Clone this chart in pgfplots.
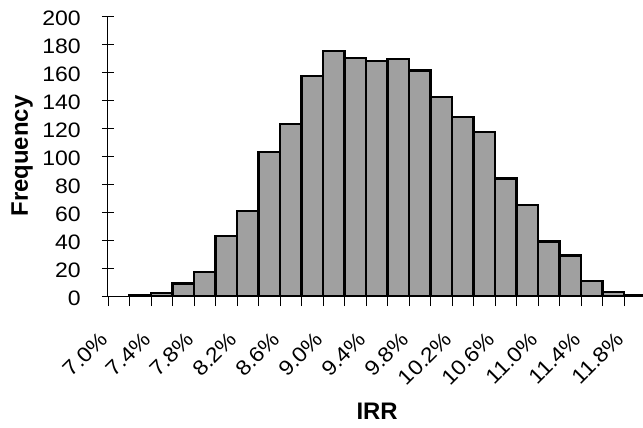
\documentclass[border=0pt]{standalone}
\usepackage{pgfplots}
\pgfplotsset{compat=1.18}
\usepackage{fontspec}
\setmainfont{Liberation Sans}
\newfontfamily\tickfam{Liberation Sans}[FakeStretch=1.1]
\definecolor{barfill}{RGB}{160,160,160}
\newcommand{\tickfont}{\tickfam\fontsize{21}{25}\selectfont}
\newcommand{\labfont}{\fontsize{24}{28}\selectfont\bfseries}
\newcommand{\xl}[1]{{\tickfont #1\%}}
\begin{document}
\begin{tikzpicture}
\useasboundingbox (-108bp,-132bp) rectangle (535bp,296bp);
\begin{axis}[
  at={(0,0)}, anchor=south west,
  scale only axis, width=535bp, height=280bp,
  xmin=-0.5, xmax=24.38, ymin=0, ymax=200,
  axis x line=bottom, axis y line=left,
  axis line style={-, line width=1bp, black},
  ytick={0,20,...,200},
  yticklabel={\tickfont\pgfmathprintnumber{\tick}},
  xtick={0,2,...,24},
  xticklabels={\xl{7.0},\xl{7.4},\xl{7.8},\xl{8.2},\xl{8.6},\xl{9.0},\xl{9.4},\xl{9.8},\xl{10.2},\xl{10.6},\xl{11.0},\xl{11.4},\xl{11.8}},
  minor xtick={-0.5,0.5,...,23.5},
  every major x tick/.append style={draw=none},
  xtick align=outside, ytick align=center,
  major tick length=12bp, minor tick length=10bp,
  tick style={black, line width=0.8bp},
  /pgf/number format/assume math mode=true,
  y tick label style={inner sep=0pt, anchor=east, xshift=-21bp, yshift=-2bp},
  x tick label style={inner sep=0pt, anchor=north east, xshift=-20bp, yshift=-22bp, rotate=45},
  xlabel={IRR}, ylabel={Frequency},
  xlabel style={font=\labfont, at={(axis description cs:0.503,-0.4107)}, anchor=center},
  ylabel style={font=\labfont, at={(axis description cs:-0.1607,0.5)}, anchor=center},
  clip=true,
]
\addplot[ybar, bar width=1, fill=barfill, draw=black, line width=2.2bp] coordinates {
(1,1) (2,2) (3,9) (4,17) (5,43) (6,61) (7,103) (8,123) (9,157) (10,175)
(11,170) (12,168) (13,169) (14,161) (15,142) (16,128) (17,117) (18,84)
(19,65) (20,39) (21,29) (22,11) (23,3) (24,1)
};
\end{axis}
\end{tikzpicture}
\end{document}
